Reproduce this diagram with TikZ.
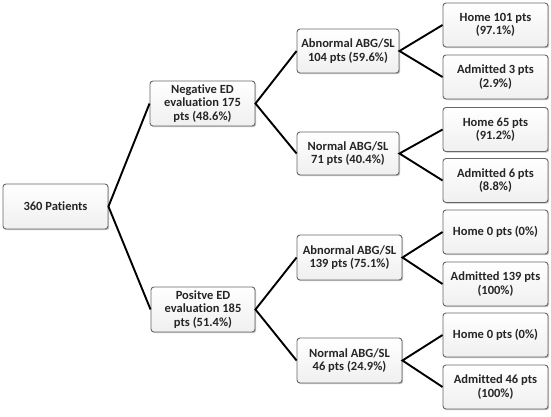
\documentclass[tikz,border=0pt]{standalone}
\usepackage{fontspec}
\setmainfont[Ligatures=NoCommon]{Carlito}
\usetikzlibrary{shadows}
\begin{document}
\begin{tikzpicture}[x=1pt,y=-1pt,
  box/.style={draw=black!60, line width=0.9pt, rounded corners=3pt, fill=white,
    top color=white, bottom color=black!6,
    drop shadow={shadow xshift=1.2pt, shadow yshift=-1.2pt, fill=black!40, opacity=0.6},
    align=center, inner sep=1pt, text=black!85,
    font=\bfseries\fontsize{12.5}{13.4}\selectfont},
  conn/.style={line width=1.9pt, black}]
\useasboundingbox (0,0) rectangle (551,416);
\node[box, minimum width=105pt, minimum height=45pt] (root) at (55.5,206.5) {360 Patients};
\node[box, minimum width=105pt, minimum height=45pt] (neg) at (202.5,103.5) {Negative ED\\evaluation 175\\pts (48.6\%)};
\node[box, minimum width=104pt, minimum height=45pt] (pos) at (203,309.5) {Positve ED\\evaluation 185\\pts (51.4\%)};
\node[box, minimum width=102pt, minimum height=44pt] (ab1) at (348,51) {Abnormal ABG/SL\\104 pts (59.6\%)};
\node[box, minimum width=102pt, minimum height=43pt] (no1) at (348,153.5) {Normal ABG/SL\\71 pts (40.4\%)};
\node[box, minimum width=105pt, minimum height=45pt] (ab2) at (349.5,257.5) {Abnormal ABG/SL\\139 pts (75.1\%)};
\node[box, minimum width=105pt, minimum height=45pt] (no2) at (349.5,360.5) {Normal ABG/SL\\46 pts (24.9\%)};
\node[box, minimum width=105pt, minimum height=44pt] (h1) at (495.5,25) {Home 101 pts\\(97.1\%)};
\node[box, minimum width=105pt, minimum height=44pt] (a1) at (495.5,77) {Admitted 3 pts\\(2.9\%)};
\node[box, minimum width=105pt, minimum height=44pt] (h2) at (495.5,129.5) {Home 65 pts\\(91.2\%)};
\node[box, minimum width=105pt, minimum height=44pt] (a2) at (495.5,180.5) {Admitted 6 pts\\(8.8\%)};
\node[box, minimum width=105pt, minimum height=44pt] (h3) at (495.5,232) {Home 0 pts (0\%)};
\node[box, minimum width=105pt, minimum height=44pt] (a3) at (495.5,284) {Admitted 139 pts\\(100\%)};
\node[box, minimum width=105pt, minimum height=44pt] (h4) at (495.5,335) {Home 0 pts (0\%)};
\node[box, minimum width=105pt, minimum height=44pt] (a4) at (495.5,387) {Admitted 46 pts\\(100\%)};
\draw[conn] (neg.west) -- (root.east) -- (pos.west);
\draw[conn] (ab1.west) -- (neg.east) -- (no1.west);
\draw[conn] (ab2.west) -- (pos.east) -- (no2.west);
\draw[conn] (h1.west) -- (ab1.east) -- (a1.west);
\draw[conn] (h2.west) -- (no1.east) -- (a2.west);
\draw[conn] (h3.west) -- (ab2.east) -- (a3.west);
\draw[conn] (h4.west) -- (no2.east) -- (a4.west);
\end{tikzpicture}
\end{document}
